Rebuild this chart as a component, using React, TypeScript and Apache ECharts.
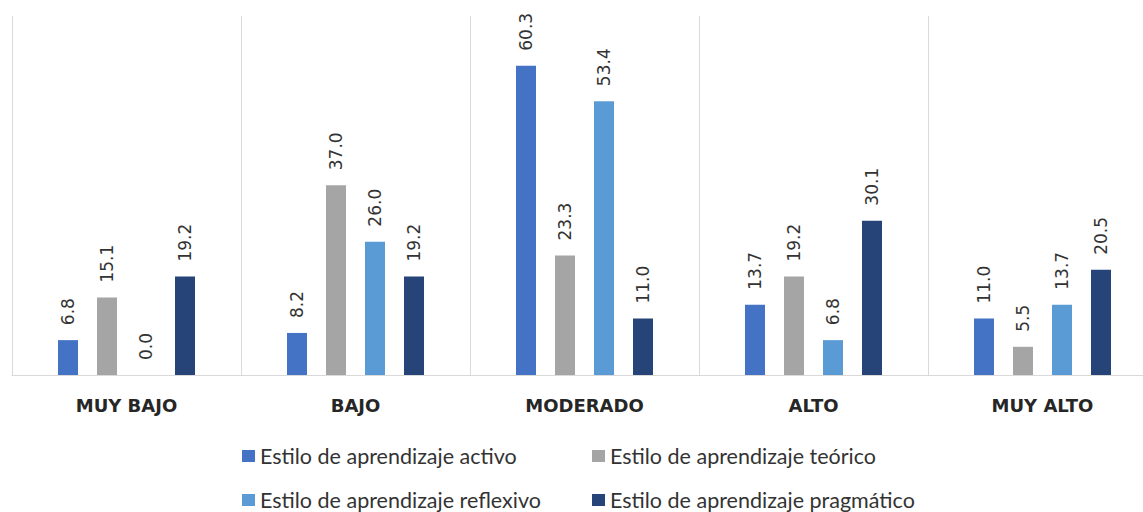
import React, { useEffect, useRef } from "react";
import * as echarts from "echarts";

const categories = ["MUY BAJO", "BAJO", "MODERADO", "ALTO", "MUY ALTO"];
const seriesNames = [
  "Estilo de aprendizaje activo",
  "Estilo de aprendizaje teórico",
  "Estilo de aprendizaje reflexivo",
  "Estilo de aprendizaje pragmático",
];
const activo = [6.8, 8.2, 60.3, 13.7, 11.0];
const teorico = [15.1, 37.0, 23.3, 19.2, 5.5];
const reflexivo = [0.0, 26.0, 53.4, 6.8, 13.7];
const pragmatico = [19.2, 19.2, 11.0, 30.1, 20.5];
const colors = ["#4472C4", "#A5A5A5", "#5B9BD5", "#264478"];

export default function App() {
  const ref = useRef<HTMLDivElement>(null);
  useEffect(() => {
    if (!ref.current) return;
    const chart = echarts.init(ref.current, undefined, { renderer: "svg" });
    const allData = [activo, teorico, reflexivo, pragmatico];
    chart.setOption({
      animation: false,
      backgroundColor: "#ffffff",
      grid: { left: 12, right: 14, top: 16, bottom: 137 },
      legend: {
        left: 242,
        top: 445,
        padding: 0,
        width: 700,
        itemWidth: 13,
        itemHeight: 12,
        itemGap: 22,
        icon: "rect",
        textStyle: {
          fontFamily: "Lato",
          fontSize: 21.5,
          color: "#333333",
          width: 310,
          overflow: "none",
          lineHeight: 20,
        },
        data: seriesNames,
      },
      xAxis: {
        type: "category",
        data: categories,
        axisTick: { show: false },
        axisLine: { lineStyle: { color: "#d9d9d9", width: 1 } },
        splitLine: { show: true, interval: 0, lineStyle: { color: "#d9d9d9", width: 1 } },
        axisLabel: {
          margin: 20,
          fontFamily: "DejaVu Sans",
          fontWeight: "bold",
          fontSize: 18,
          lineHeight: 20,
          color: "#262626",
        },
      },
      yAxis: {
        type: "value",
        min: 0,
        max: 70,
        show: false,
        splitLine: { show: false },
      },
      series: allData.map((d, i) => ({
        name: seriesNames[i],
        type: "bar",
        data: d,
        barWidth: 20,
        barGap: "95%",
        itemStyle: { color: colors[i] },
        label: {
          show: true,
          position: "top",
          distance: 15,
          rotate: 90,
          align: "left",
          verticalAlign: "middle",
          fontFamily: "DejaVu Sans",
          fontSize: 17,
          color: "#333333",
          formatter: (p: any) => Number(p.value).toFixed(1),
        },
      })),
    });
    return () => chart.dispose();
  }, []);
  return (
    <div
      style={{
        position: "fixed",
        left: 0,
        top: 0,
        width: 1143,
        height: 512,
        overflow: "hidden",
        background: "#fff",
      }}
    >
      <div ref={ref} style={{ width: 1171, height: 512 }} />
    </div>
  );
}
